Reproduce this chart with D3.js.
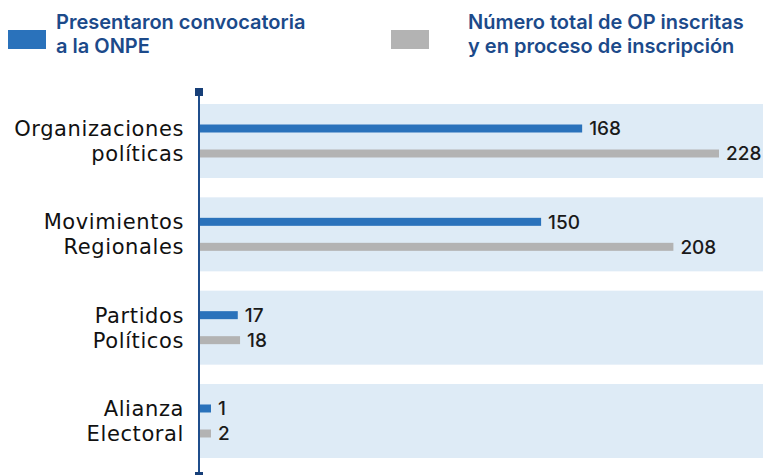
<!DOCTYPE html>
<html lang="es">
<head>
    <meta charset="UTF-8">
    <title>Organizaciones políticas</title>
    <script src="https://cdn.jsdelivr.net/npm/d3@7/dist/d3.min.js" charset="utf-8"></script>
    <style>
        body { margin: 0; background: #fff; }
    </style>
</head>
<body>
    <script>
        // data
        let categories = ["Organizaciones políticas", "Movimientos Regionales", "Partidos Políticos", "Alianza Electoral"];
        let categoryLines = [["Organizaciones", "políticas"], ["Movimientos", "Regionales"], ["Partidos", "Políticos"], ["Alianza", "Electoral"]];
        let presentaron = [168, 150, 17, 1];
        let totalOP = [228, 208, 18, 2];
        let seriesNames = ["Presentaron convocatoria a la ONPE", "Número total de OP inscritas y en proceso de inscripción"];
        let legendLines = [["Presentaron convocatoria", "a la ONPE"], ["Número total de OP inscritas", "y en proceso de inscripción"]];

        let width = 763;
        let height = 475;
        let colors = ["#2a72bb", "#b3b3b3"];
        let axisColor = "#1f4e8c";

        let svg = d3.select("body").append("svg")
            .attr("width", width)
            .attr("height", height);

        let rows = categories.map((c, i) => ({
            cat: c,
            lines: categoryLines[i],
            values: [presentaron[i], totalOP[i]]
        }));

        let x = d3.scaleLinear()
            .domain([0, d3.max(totalOP)])
            .range([199, 719]);

        let y = d3.scaleBand()
            .domain(categories)
            .range([104, 458])
            .paddingInner(0.207);

        let ySub = d3.scalePoint()
            .domain(seriesNames)
            .range([24.5, 49.5]);

        let barH = 8;
        let minW = 12;

        // background bands
        svg.append("g").selectAll("rect")
            .data(rows)
            .join("rect")
            .attr("x", x(0))
            .attr("y", d => y(d.cat))
            .attr("width", width - x(0))
            .attr("height", y.bandwidth())
            .attr("fill", "#deebf6");

        let groups = svg.append("g").selectAll("g")
            .data(rows)
            .join("g")
            .attr("transform", d => `translate(0,${y(d.cat)})`);

        let cells = groups.selectAll("g")
            .data(d => d.values.map((v, k) => ({v: v, k: k, s: seriesNames[k], line: d.lines[k]})))
            .join("g");

        cells.append("rect")
            .attr("x", x(0))
            .attr("y", d => ySub(d.s) - barH / 2)
            .attr("width", d => Math.max(x(d.v) - x(0), minW))
            .attr("height", barH)
            .attr("fill", d => colors[d.k]);

        cells.append("text")
            .attr("x", d => x(0) + Math.max(x(d.v) - x(0), minW) + 7)
            .attr("y", d => ySub(d.s))
            .attr("dy", "0.36em")
            .style("font-family", "Inter, 'Open Sans', sans-serif")
            .style("font-weight", 500)
            .style("font-size", "19px")
            .attr("fill", "#1a1a1a")
            .text(d => d.v);

        // category labels, one line per bar
        cells.append("text")
            .attr("x", 184)
            .attr("y", d => ySub(d.s))
            .attr("dy", "0.36em")
            .attr("text-anchor", "end")
            .style("font-family", "'DejaVu Sans', sans-serif")
            .style("font-size", "21px")
            .style("letter-spacing", "0.6px")
            .attr("fill", "#111")
            .text(d => d.line);

        // axis line with square ends
        svg.append("line")
            .attr("x1", x(0)).attr("x2", x(0))
            .attr("y1", 92).attr("y2", height)
            .attr("stroke", axisColor)
            .attr("stroke-width", 2);
        [92, 476].forEach(cy => {
            svg.append("rect")
                .attr("x", x(0) - 4).attr("y", cy - 4)
                .attr("width", 8).attr("height", 8)
                .attr("fill", "#173f78");
        });

        // legend
        let legendX = [8, 391];
        let legend = svg.append("g").selectAll("g")
            .data(seriesNames)
            .join("g")
            .attr("transform", (d, i) => `translate(${legendX[i]},0)`);

        legend.append("rect")
            .attr("x", 0).attr("y", 30)
            .attr("width", 38).attr("height", 19)
            .attr("fill", (d, i) => colors[i]);

        legend.each(function (d, i) {
            d3.select(this).selectAll("text")
                .data(legendLines[i])
                .join("text")
                .attr("x", i === 0 ? 48 : 77)
                .attr("y", (t, j) => 29 + j * 24)
                .style("font-family", "Inter, 'Noto Sans', sans-serif")
                .style("font-weight", 600)
                .style("font-size", "20px")
                .attr("fill", "#1c4a8a")
                .text(t => t);
        });
    </script>
</body>
</html>
